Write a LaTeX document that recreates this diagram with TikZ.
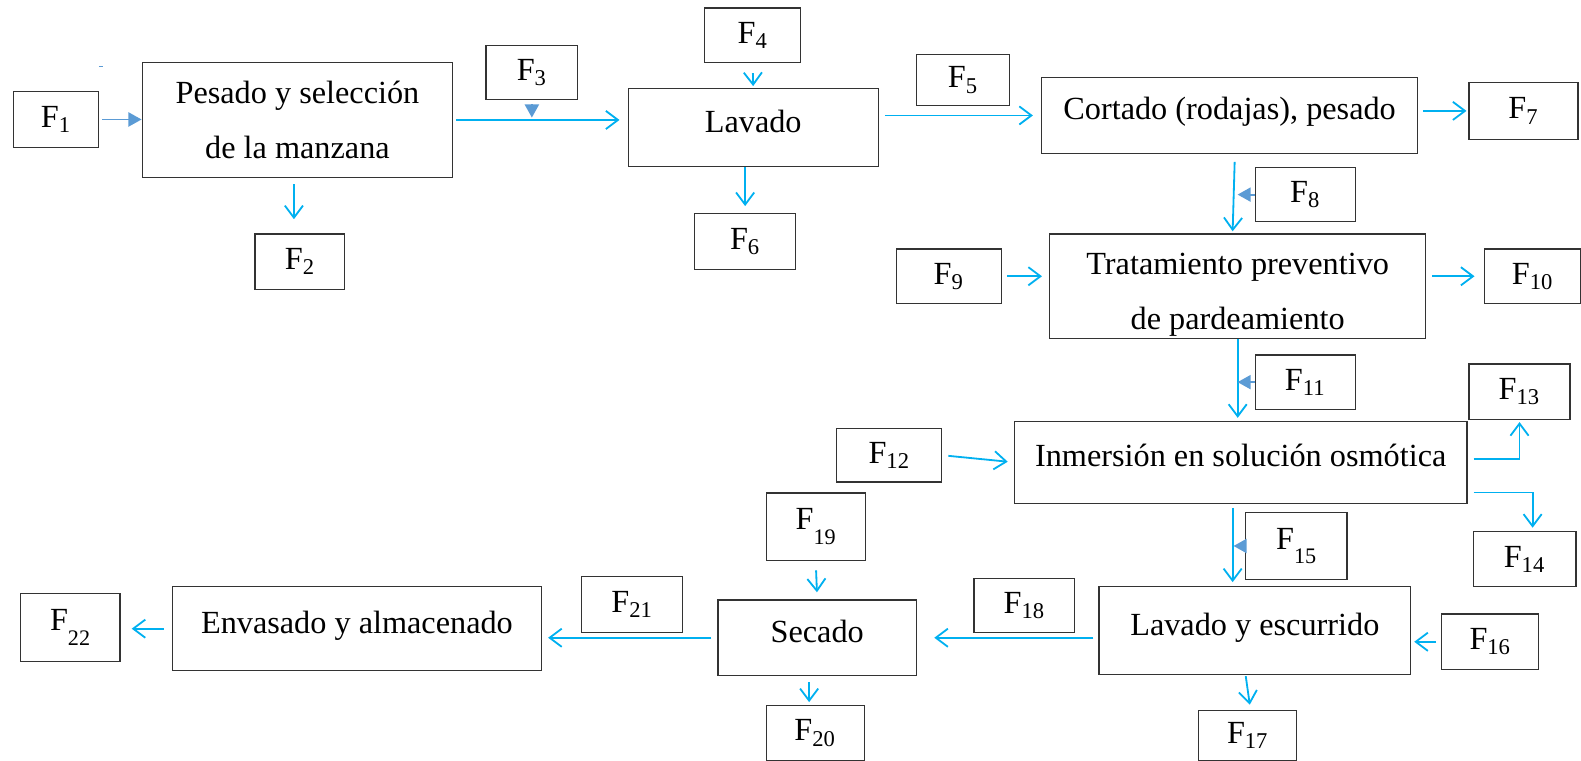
\documentclass[tikz,border=0pt]{standalone}
\usepackage{fontspec}
\setmainfont{Liberation Serif}
\usetikzlibrary{calc, positioning}
\usetikzlibrary{arrows.meta}

\definecolor{flujo}{HTML}{00B0F0}
\definecolor{punta}{HTML}{5B9BD5}

\newcommand{\Fn}[1]{F\textsubscript{#1}}
\newcommand{\Fl}[1]{F\raisebox{-1ex}{\fontsize{11}{11}\selectfont #1}}

\tikzset{
  caja/.style={draw=black!80, line width=0.6pt, inner sep=0pt, align=center,
    font=\fontsize{16}{27}\selectfont},
  etapa/.style={caja, text height=12.5pt, text depth=8pt},
  corriente/.style={draw=flujo, line width=0.9pt, -{Straight Barb[length=6pt,width=9pt]}},
  entrada/.style={draw=punta, fill=punta, line width=0.9pt, -{Triangle[length=6.5pt,width=7pt]}},
}

\begin{document}
\begin{tikzpicture}[x=0.5pt, y=-0.5pt]
\useasboundingbox (0,0) rectangle (1568,754);

\node[caja, minimum width=42.5pt, minimum height=27.5pt] (F1) at (55.5,118.5) {\Fn{1}};
\node[caja, minimum width=154pt, minimum height=57pt] (pesado) at (295,119) {Pesado y selección\\de la manzana};
\node[caja, minimum width=44.5pt, minimum height=27.5pt] (F2) at (297.5,259.5) {\Fn{2}};
\node[caja, minimum width=45.5pt, minimum height=27pt] (F3) at (527.5,72) {\Fn{3}};
\node[etapa, minimum width=124pt, minimum height=38.5pt] (lavado) at (747,126.5) {Lavado};
\node[caja, minimum width=47.5pt, minimum height=27pt] (F4) at (746.5,35) {\Fn{4}};
\node[caja, minimum width=50pt, minimum height=27.5pt] (F6) at (739,239.5) {\Fn{6}};
\node[caja, minimum width=46pt, minimum height=25.5pt] (F5) at (955,79.5) {\Fn{5}};
\node[etapa, minimum width=186.5pt, minimum height=37.5pt] (cortado) at (1219.5,114.5) {Cortado (rodajas), pesado};
\node[caja, minimum width=54pt, minimum height=28pt] (F7) at (1511,110) {\Fn{7}};
\node[caja, minimum width=49.5pt, minimum height=27pt] (F8) at (1294.5,193) {\Fn{8}};
\node[caja, text height=46pt, minimum width=186.5pt, minimum height=52pt] (tratamiento) at (1227.5,284) {Tratamiento preventivo\\de pardeamiento};
\node[caja, minimum width=52pt, minimum height=27pt] (F9) at (941,274) {\Fn{9}};
\node[caja, minimum width=48pt, minimum height=27pt] (F10) at (1520,274) {\Fn{10}};
\node[caja, minimum width=49.5pt, minimum height=27pt] (F11) at (1294.5,379) {\Fn{11}};
\node[etapa, minimum width=224.5pt, minimum height=40.5pt] (inmersion) at (1230.5,458.5) {Inmersión en solución osmótica};
\node[caja, minimum width=52pt, minimum height=26.5pt] (F12) at (882,451.5) {\Fn{12}};
\node[caja, minimum width=50pt, minimum height=27.5pt] (F13) at (1507,388.5) {\Fn{13}};
\node[caja, minimum width=51pt, minimum height=27.5pt] (F14) at (1512,554.5) {\Fn{14}};
\node[caja, minimum width=50.5pt, minimum height=33.5pt] (F15) at (1285.5,541.5) {\Fl{15}};
\node[etapa, minimum width=154.5pt, minimum height=43.5pt] (lavesc) at (1244.5,625.5) {Lavado y escurrido};
\node[caja, minimum width=48pt, minimum height=27.5pt] (F16) at (1478,636.5) {\Fn{16}};
\node[caja, minimum width=48.5pt, minimum height=25pt] (F17) at (1237.5,729.5) {\Fn{17}};
\node[caja, minimum width=50pt, minimum height=26.5pt] (F18) at (1016,600.5) {\Fn{18}};
\node[etapa, minimum width=98.5pt, minimum height=37.5pt] (secado) at (810.5,632.5) {Secado};
\node[caja, minimum width=49pt, minimum height=33.5pt] (F19) at (809,522.5) {\Fl{19}};
\node[caja, minimum width=48.5pt, minimum height=27pt] (F20) at (808.5,727) {\Fn{20}};
\node[caja, minimum width=50pt, minimum height=27.5pt] (F21) at (627,599.5) {\Fn{21}};
\node[etapa, minimum width=183pt, minimum height=41.5pt] (envasado) at (354,623.5) {Envasado y almacenado};
\node[caja, minimum width=49.5pt, minimum height=33.5pt] (F22) at (69.5,622.5) {\Fl{22}};

\draw[punta, line width=0.8pt] (98,66) -- (102,66);

\draw[entrada, shorten <=1.5pt] (F1.east) -- (F1.east -| pesado.west);
\draw[corriente, shorten <=3pt, shorten >=7pt] ($(F2.north |- pesado.south)+(-6,0)$) -- ($(F2.north)+(-6,0)$);
\draw[entrada] ($(F3.south)+(0,4)$) -- ($(F3.south)+(0,17)$);
\draw[corriente, shorten <=1.5pt, shorten >=4pt] (pesado.east) -- (pesado.east -| lavado.west);
\draw[corriente, shorten <=5pt, shorten >=1pt] (F4.south) -- (lavado.north);
\draw[corriente, shorten >=3.5pt] (lavado.south -| F6.north) -- (F6.north);
\draw[corriente, shorten <=3pt, shorten >=4pt] (cortado.west -| lavado.east) -- (cortado.west);
\draw[corriente, shorten <=2.5pt, shorten >=1pt] (cortado.east |- F7.west) -- (F7.west);
\draw[corriente] ($(cortado.south)+(5,8)$) -- ($(tratamiento.north)+(-5,-2)$);
\draw[entrada] (F8.west) -- ++(-17,0);
\draw[corriente, shorten <=2.5pt, shorten >=3.5pt] (F9.east) -- (F9.east -| tratamiento.west);
\draw[corriente, shorten <=3pt, shorten >=4.5pt] (tratamiento.east |- F10.west) -- (F10.west);
\draw[corriente, shorten >=1.5pt] (tratamiento.south) -- (tratamiento.south |- inmersion.north);
\draw[entrada] (F11.west) -- ++(-17,0);
\draw[corriente, shorten <=3pt, shorten >=3pt] (F12.east) -- (inmersion.west);
\draw[corriente, shorten >=1pt] ($(inmersion.east)+(6,-3)$) -| (F13.south);
\draw[corriente] ($(inmersion.east)+(6,30)$) -| ($(F14.north)+(8,-3)$);
\draw[corriente] ($(inmersion.south)+(-8,4)$) -- ($(lavesc.north)+(-22,-4)$);
\draw[entrada] (F15.west) -- ++(-11,0);
\draw[corriente, shorten <=2.5pt, shorten >=1.5pt] (F16.west) -- (F16.west -| lavesc.east);
\draw[corriente] ($(lavesc.south)+(-9,1)$) -- ($(F17.north)+(2,-5)$);
\draw[corriente, shorten <=2.5pt, shorten >=8.5pt] (lavesc.west |- secado.east) -- (secado.east);
\draw[corriente, shorten <=4.5pt, shorten >=3.5pt] (F19.south) -- (secado.north);
\draw[corriente] ($(secado.south)+(-8,6)$) -- ($(F20.north)+(-6,-3)$);
\draw[corriente, shorten <=3pt, shorten >=3pt] (secado.west) -- (secado.west -| envasado.east);
\draw[corriente, shorten <=4pt, shorten >=5.5pt] (envasado.west) -- (envasado.west -| F22.east);
\end{tikzpicture}
\end{document}
